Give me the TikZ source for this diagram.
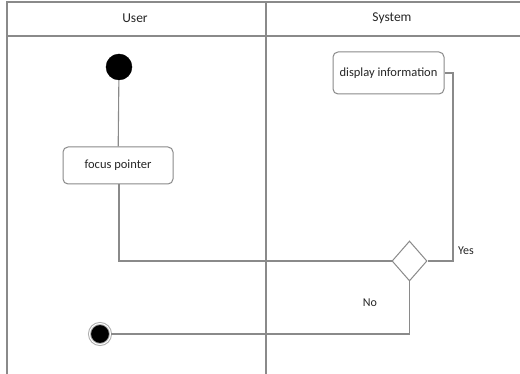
\documentclass[tikz,border=0pt]{standalone}
\usepackage{fontspec}
\setmainfont{Carlito}
\usetikzlibrary{shapes.geometric}
\definecolor{edge}{HTML}{8A8A8A}
\definecolor{ink}{HTML}{262626}
\tikzset{
  lane/.style={draw=edge, line width=1.1pt},
  flow/.style={draw=edge, line width=1.1pt},
  action/.style={draw=edge, line width=1pt, rounded corners=5pt, fill=white,
    text=ink, font=\fontsize{12.5}{14}\selectfont, inner sep=0pt},
  initial/.style={circle, fill=black, draw=black, minimum size=26pt, inner sep=0pt},
  final/.style={circle, fill=black, draw=edge!70, line width=1pt, double=white,
    double distance=1pt, minimum size=21pt, inner sep=0pt},
  choice/.style={diamond, draw=edge, line width=1pt, fill=white,
    minimum width=35pt, minimum height=40pt, inner sep=0pt, aspect=0.875},
  lbl/.style={text=ink, font=\fontsize{12}{14}\selectfont},
  head/.style={text=ink, font=\fontsize{13.5}{16}\selectfont}
}
\begin{document}
\begin{tikzpicture}[x=1pt, y=-1pt]
  \useasboundingbox (0,0) rectangle (520,374);
  \fill[white] (0,0) rectangle (520,374);

  % swimlane frame
  \draw[lane] (7,374) -- (7,2) -- (520,2);
  \draw[lane] (7,36) -- (520,36);
  \draw[lane] (266,2) -- (266,374);
  \node[head] (userlane) at (135,18) {User};
  \node[head] (syslane) at (392,18) {System};

  % nodes
  \node[initial] (start) at (119,67) {};
  \node[action, minimum width=110pt, minimum height=37pt] (focus) at (118,165.5) {focus pointer};
  \node[action, minimum width=111pt, minimum height=42pt] (display) at (388.5,73) {display information};
  \node[choice] (dec) at (409.5,261) {};
  \node[final] (stop) at (100,334) {};
  \coordinate (yesCorner) at (453,261);
  \coordinate (yesTop) at (453,73);
  \coordinate (noCorner) at (409.5,334);
  \coordinate (focusCorner) at (119,261);

  % connectors
  \draw[flow] (start) -- (focus);
  \draw[flow] (focus.south -| focusCorner) -- (focusCorner) -- (dec.west);
  \draw[flow] (dec.east) -- (yesCorner) -- (yesTop) -- (display.east);
  \draw[flow] (dec.south) -- (noCorner) -- (stop.east);

  % guard labels
  \node[lbl] (yes) at (466,251) {Yes};
  \node[lbl] (no) at (370,303) {No};
\end{tikzpicture}
\end{document}
